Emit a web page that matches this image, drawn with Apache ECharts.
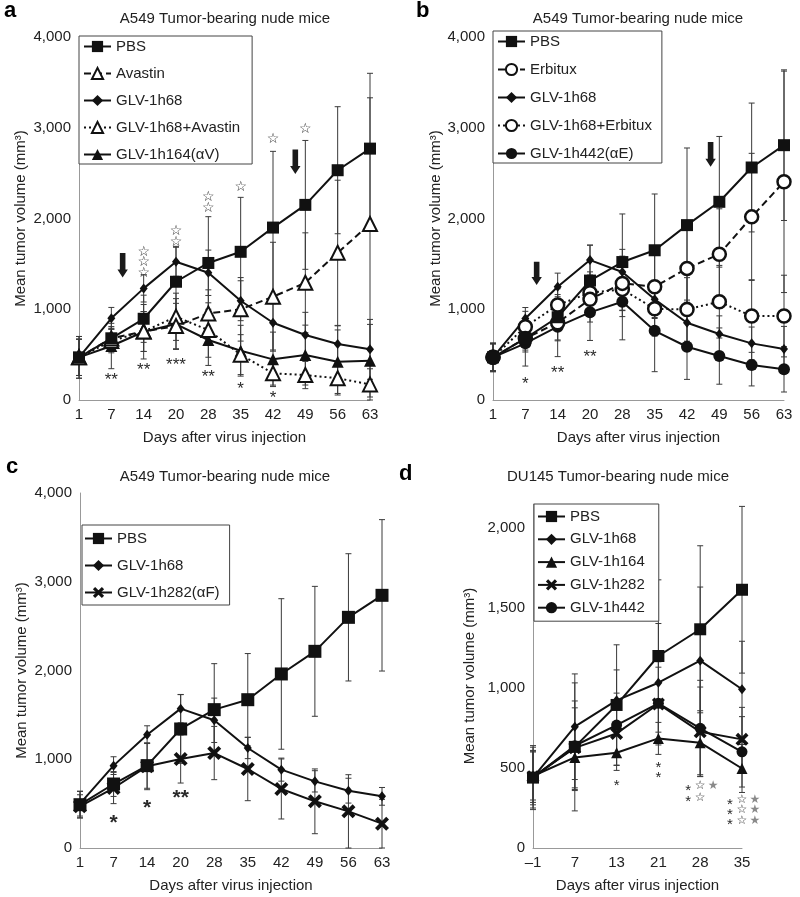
<!DOCTYPE html>
<html><head><meta charset="utf-8">
<script src="https://cdn.jsdelivr.net/npm/echarts@6/dist/echarts.min.js"></script>
<style>html,body{margin:0;padding:0;background:#fff}#c{width:800px;height:897px}</style>
</head><body><div id="c"></div>
<script>
// ---------- categories ----------
const daysABC = ['1','7','14','20','28','35','42','49','56','63'];
const daysD = ['–1','7','13','21','28','35'];

// ---------- panel a ----------
const aPBS         = [470, 680, 895, 1303, 1510, 1633, 1900, 2150, 2532, 2770];
const aPBSErr      = [230, 110, 260, 390, 510, 600, 840, 710, 700, 830];
const aAvastin     = [470, 679, 755, 815, 954, 999, 1138, 1292, 1622, 1940];
const aAvastinErr  = [200, 130, 220, 250, 260, 350, 600, 550, 800, 1390];
const aGLV68Av     = [470, 650, 755, 917, 771, 500, 294, 275, 240, 172];
const aGLV68AvErr  = [200, 130, 220, 260, 300, 220, 130, 150, 185, 172];
const aGLV68       = [470, 900, 1230, 1523, 1402, 1094, 851, 716, 617, 558];
const aGLV68Err    = [200, 120, 150, 160, 250, 220, 300, 250, 200, 330];
const aGLV164      = [470, 595, 752, 837, 661, 543, 448, 495, 422, 433];
const aGLV164Err   = [230, 250, 300, 280, 280, 280, 300, 330, 350, 400];
// significance marks: [day, value, text]
const aMarks = [['7',275,'**'],['14',385,'**'],['20',440,'***'],['28',301,'**'],['35',176,'*'],['42',73,'*'],
  ['14',1512,'☆\n☆\n☆'],['20',1802,'☆\n☆'],['28',2175,'☆\n☆'],['35',2338,'☆'],['42',2871,'☆'],['49',2981,'☆']];
// treatment arrows: [category index, fraction to next category, top value, tip value]
const aArrows = [[1, 0.35, 1620, 1350], [6, 0.69, 2760, 2490]];

// ---------- panel b ----------
const bPBS         = [470, 680, 912, 1316, 1520, 1650, 1927, 2184, 2562, 2808];
const bPBSErr      = [150, 130, 250, 390, 530, 620, 850, 720, 710, 830];
const bErbitux     = [470, 679, 852, 1109, 1285, 1248, 1450, 1607, 2018, 2404];
const bErbituxErr  = [150, 150, 200, 250, 300, 350, 450, 500, 700, 1220];
const bGLV68Er     = [470, 807, 1046, 1182, 1219, 1005, 998, 1083, 925, 925];
const bGLV68ErErr  = [150, 170, 180, 230, 300, 300, 350, 400, 400, 450];
const bGLV68       = [470, 899, 1248, 1542, 1410, 1109, 851, 727, 624, 561];
const bGLV68Err    = [150, 120, 150, 165, 250, 200, 250, 200, 180, 250];
const bGLV442      = [470, 624, 808, 966, 1083, 762, 587, 484, 385, 338];
const bGLV442Err   = [160, 250, 330, 310, 420, 450, 360, 310, 230, 250];
const bMarks = [['7',228,'*'],['14',349,'**'],['20',532,'**']];
const bArrows = [[1, 0.35, 1523, 1266], [6, 0.73, 2844, 2569]];

// ---------- panel c ----------
const cPBS         = [488, 721, 928, 1341, 1559, 1671, 1961, 2216, 2599, 2847];
const cPBSErr      = [150, 140, 255, 387, 518, 520, 848, 732, 717, 853];
const cGLV68       = [500, 928, 1277, 1570, 1439, 1127, 883, 751, 646, 582];
const cGLV68Err    = [140, 100, 100, 160, 250, 120, 130, 120, 140, 100];
const cGLV282      = [470, 676, 920, 1003, 1070, 890, 665, 526, 413, 274];
const cGLV282Err   = [130, 176, 263, 271, 300, 357, 338, 365, 413, 274];
const cMarks = [['7',346,'*'],['14',515,'*'],['20',627,'**']];

// ---------- panel d ----------
const dPBS         = [440, 632, 894, 1200, 1367, 1614];
const dPBSErr      = [200, 400, 376, 476, 522, 521];
const dGLV68       = [440, 758, 923, 1033, 1171, 992];
const dGLV68Err    = [170, 330, 190, 370, 460, 300];
const dGLV164      = [450, 566, 595, 685, 658, 497];
const dGLV164Err   = [150, 200, 110, 100, 200, 150];
const dGLV282      = [445, 626, 716, 900, 726, 679];
const dGLV282Err   = [160, 250, 200, 230, 280, 200];
const dGLV442      = [440, 639, 768, 904, 748, 601];
const dGLV442Err   = [190, 280, 200, 260, 300, 220];
// [day, value, text, column]
const dMarks = [['13',418,'*',0],['21',528,'*',0],['21',466,'*',0],
  ['28',386,'*',-1],['28',386,'☆',0],['28',386,'★',1],['28',315,'*',-1],['28',315,'☆',0],
  ['35',300,'*',-1],['35',300,'☆',0],['35',300,'★',1],
  ['35',237,'*',-1],['35',237,'☆',0],['35',237,'★',1],
  ['35',170,'*',-1],['35',170,'☆',0],['35',170,'★',1]];

// ---------- styling / helpers ----------
const FONT = 'Liberation Sans, Arial, Helvetica, sans-serif';
const INK = '#111';
const TXT = '#222';
const X_PATH = 'path://M0,2 L2,0 L10,8 L8,10 Z M8,0 L10,2 L2,10 L0,8 Z';
const SYM = {
  square:   {symbol:'rect', symbolSize:12, itemStyle:{color:INK}},
  diamond:  {symbol:'diamond', symbolSize:[8,10], itemStyle:{color:INK}},
  triFill:  {symbol:'triangle', symbolSize:12, itemStyle:{color:INK}},
  triOpen:  {symbol:'triangle', symbolSize:14, itemStyle:{color:'#fff', borderColor:INK, borderWidth:2}},
  circOpen: {symbol:'circle', symbolSize:13, itemStyle:{color:'#fff', borderColor:INK, borderWidth:2.5}},
  circFill: {symbol:'circle', symbolSize:12, itemStyle:{color:INK}},
  cross:    {symbol:X_PATH, symbolSize:14, itemStyle:{color:INK}}
};
function line(name, data, idx, sym, dash, size) {
  const s = Object.assign({type:'line', name:name, data:data, xAxisIndex:idx, yAxisIndex:idx, z:3,
    showAllSymbol:true, emphasis:{disabled:true}, silent:true,
    lineStyle:{color:INK, width:2, type: dash || 'solid'}}, JSON.parse(JSON.stringify(sym)));
  if (size) s.symbolSize = size;
  return s;
}
function errBars(vals, errs, idx) {
  return {type:'custom', xAxisIndex:idx, yAxisIndex:idx, z:1, silent:true,
    data: vals.map((v,i)=>[i, Math.max(0, v-errs[i]), v+errs[i]]),
    encode:{x:0, y:[1,2]},
    renderItem:(p, api)=>{
      const lo = api.coord([api.value(0), api.value(1)]);
      const hi = api.coord([api.value(0), api.value(2)]);
      const st = {stroke:'#3a3a3a', lineWidth:1};
      return {type:'group', children:[
        {type:'line', shape:{x1:lo[0], y1:lo[1], x2:hi[0], y2:hi[1]}, style:st},
        {type:'line', shape:{x1:lo[0]-3, y1:lo[1], x2:lo[0]+3, y2:lo[1]}, style:st},
        {type:'line', shape:{x1:hi[0]-3, y1:hi[1], x2:hi[0]+3, y2:hi[1]}, style:st}]};
    }};
}
function marks(list, cats, idx, astSize, starSize, bold) {
  return {type:'custom', xAxisIndex:idx, yAxisIndex:idx, z:5, silent:true,
    data: list.map(m=>[cats.indexOf(m[0]), m[1], m[3] || 0]),
    encode:{x:0, y:1},
    renderItem:(p, api)=>{
      const m = list[p.dataIndex];
      const pt = api.coord([api.value(0), api.value(1)]);
      const col = api.value(2);
      const isAst = m[2].indexOf('*') >= 0;
      const fs = isAst ? astSize : starSize;
      return {type:'text', x: pt[0] + col*12 + (col===1?1:0), y: pt[1] + (isAst ? fs*0.3 : 0),
        style:{text:m[2], align:'center', verticalAlign:'middle', fontSize:fs, lineHeight: isAst ? fs : 10.8,
          fontFamily: isAst ? FONT : 'DejaVu Sans', fontWeight: bold ? 'bold' : 'normal',
          fill: m[2] === '★' ? '#8a8a8a' : '#2a2a2a'}};
    }};
}
function arrows(list, idx) {
  return {type:'custom', xAxisIndex:idx, yAxisIndex:idx, z:5, silent:true, data:list,
    encode:{x:0, y:2},
    renderItem:(p, api)=>{
      const i = api.value(0), f = api.value(1);
      const a = api.coord([i, api.value(2)]), b = api.coord([i+1, api.value(2)]), c = api.coord([i, api.value(3)]);
      const x = a[0] + f*(b[0]-a[0]), y0 = a[1], y1 = c[1];
      const hw = 2.8, hh = 5.2, hl = 8;
      return {type:'polygon', shape:{points:[[x-hw,y0],[x+hw,y0],[x+hw,y1-hl],[x+hh,y1-hl],[x,y1],[x-hh,y1-hl],[x-hw,y1-hl]]},
        style:{fill:'#1a1a1a'}};
    }};
}
function xAxis(cats, idx) {
  return {type:'category', data:cats, gridIndex:idx, boundaryGap:false,
    axisLine:{show:true, lineStyle:{color:'#999', width:1}}, axisTick:{show:false}, splitLine:{show:false},
    axisLabel:{interval:0, fontSize:15, color:TXT, fontFamily:FONT, margin:7},
    name:'Days after virus injection', nameLocation:'middle', nameGap:30,
    nameTextStyle:{fontSize:15, color:TXT, fontFamily:FONT}};
}
function yAxis(idx, max, interval, gap) {
  return {type:'value', gridIndex:idx, min:0, max:max, interval:interval,
    axisLine:{show:true, lineStyle:{color:'#999', width:1}}, axisTick:{show:false}, splitLine:{show:false},
    axisLabel:{fontSize:15, color:TXT, fontFamily:FONT, margin:8, showMaxLabel: max % interval === 0,
      formatter: v => Number(v).toLocaleString('en-US')},
    name:'Mean tumor volume (mm³)', nameLocation:'middle', nameGap:gap,
    nameTextStyle:{fontSize:15, color:TXT, fontFamily:FONT}};
}
function legend(names, left, top, gap, pad) {
  return {data:names, orient:'vertical', left:left, top:top, itemWidth:27, itemHeight:14, itemGap:gap,
    padding:pad, backgroundColor:'#fff', borderColor:'#444', borderWidth:1, selectedMode:false,
    textStyle:{fontSize:15, color:TXT, fontFamily:FONT}};
}
function ttl(text, left, top, letter) {
  return {text:text, left:left, top:top, padding:0, textAlign: letter ? 'left' : 'center',
    textStyle:{fontSize: letter ? 22 : 15, fontWeight: letter ? 'bold' : 'normal', color: letter ? '#000' : TXT, fontFamily:FONT}};
}

const option = {
  animation:false,
  backgroundColor:'#fff',
  title:[
    ttl('a', 4, 0, true), ttl('A549 Tumor-bearing nude mice', 225, 11),
    ttl('b', 416, 0, true), ttl('A549 Tumor-bearing nude mice', 638, 11),
    ttl('c', 6, 456, true), ttl('A549 Tumor-bearing nude mice', 225, 469),
    ttl('d', 399, 463, true), ttl('DU145 Tumor-bearing nude mice', 618, 469)
  ],
  legend:[
    legend(['PBS','Avastin','GLV-1h68','GLV-1h68+Avastin','GLV-1h164(αV)'], 79, 36, 12, [3,12,2,4]),
    legend(['PBS','Erbitux','GLV-1h68','GLV-1h68+Erbitux','GLV-1h442(αE)'], 493, 31, 13, [3,10,2,4]),
    legend(['PBS','GLV-1h68','GLV-1h282(αF)'], 82, 525, 12, [6,10,5,2]),
    legend(['PBS','GLV-1h68','GLV-1h164','GLV-1h282','GLV-1h442'], 534, 504, 7.8, [5,14,6,3])
  ],
  grid:[
    {left:79, top:37, width:291, height:363},
    {left:493, top:37, width:291, height:363},
    {left:80, top:493, width:302, height:355},
    {left:533, top:504, width:209, height:344}
  ],
  xAxis:[xAxis(daysABC,0), xAxis(daysABC,1), xAxis(daysABC,2), xAxis(daysD,3)],
  yAxis:[yAxis(0,4000,1000,51), yAxis(1,4000,1000,50), yAxis(2,4000,1000,51), yAxis(3,2150,500,56)],
  series:[
    // a
    errBars(aPBS,aPBSErr,0), errBars(aAvastin,aAvastinErr,0), errBars(aGLV68Av,aGLV68AvErr,0),
    errBars(aGLV68,aGLV68Err,0), errBars(aGLV164,aGLV164Err,0),
    line('GLV-1h164(αV)', aGLV164, 0, SYM.triFill),
    line('GLV-1h68', aGLV68, 0, SYM.diamond),
    line('GLV-1h68+Avastin', aGLV68Av, 0, SYM.triOpen, [2,3]),
    line('Avastin', aAvastin, 0, SYM.triOpen, [7,4]),
    line('PBS', aPBS, 0, SYM.square),
    marks(aMarks, daysABC, 0, 17, 14, false), arrows(aArrows, 0),
    // b
    errBars(bPBS,bPBSErr,1), errBars(bErbitux,bErbituxErr,1), errBars(bGLV68Er,bGLV68ErErr,1),
    errBars(bGLV68,bGLV68Err,1), errBars(bGLV442,bGLV442Err,1),
    line('GLV-1h442(αE)', bGLV442, 1, SYM.circFill),
    line('GLV-1h68', bGLV68, 1, SYM.diamond),
    line('GLV-1h68+Erbitux', bGLV68Er, 1, SYM.circOpen, [2,3]),
    line('Erbitux', bErbitux, 1, SYM.circOpen, [7,4]),
    line('PBS', bPBS, 1, SYM.square),
    marks(bMarks, daysABC, 1, 17, 14, false), arrows(bArrows, 1),
    // c
    errBars(cPBS,cPBSErr,2), errBars(cGLV68,cGLV68Err,2), errBars(cGLV282,cGLV282Err,2),
    line('GLV-1h282(αF)', cGLV282, 2, SYM.cross),
    line('GLV-1h68', cGLV68, 2, SYM.diamond),
    line('PBS', cPBS, 2, SYM.square, null, 13),
    marks(cMarks, daysABC, 2, 21, 14, true),
    // d
    errBars(dPBS,dPBSErr,3), errBars(dGLV68,dGLV68Err,3), errBars(dGLV164,dGLV164Err,3),
    errBars(dGLV282,dGLV282Err,3), errBars(dGLV442,dGLV442Err,3),
    line('GLV-1h164', dGLV164, 3, SYM.triFill, null, 11),
    line('GLV-1h442', dGLV442, 3, SYM.circFill, null, 11),
    line('GLV-1h282', dGLV282, 3, SYM.cross, null, 13),
    line('GLV-1h68', dGLV68, 3, SYM.diamond),
    line('PBS', dPBS, 3, SYM.square, null, 12),
    marks(dMarks, daysD, 3, 15, 12, false)
  ]
};
const chart = echarts.init(document.getElementById('c'), null, {renderer:'canvas'});
chart.setOption(option);
</script></body></html>
